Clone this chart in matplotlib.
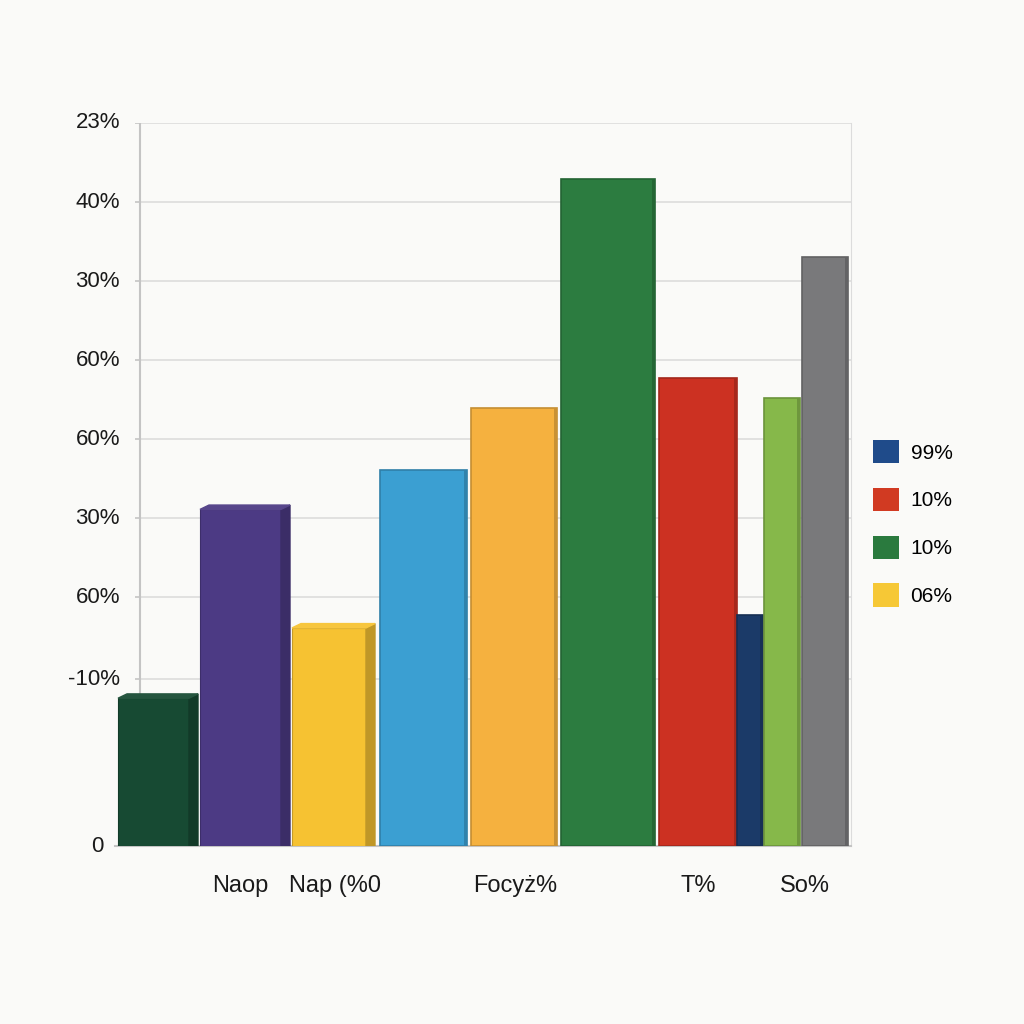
import matplotlib.pyplot as plt
from matplotlib.patches import Patch, Polygon
import matplotlib.colors as mcolors

plt.rcParams['font.family'] = ['Liberation Sans', 'DejaVu Sans']

# bar values (grid spacing = 10 units)
values = [18.7, 42.6, 27.6, 47.6, 55.4, 84.4, 59.2, 29.2, 56.7, 74.6]
colors = ['#174a33', '#4c3a84', '#f6c232', '#3b9fd2', '#f5b13f',
          '#2c7c40', '#cc3122', '#1b3a68', '#86b84a', '#79797b']

# layout: left edge and width of every bar (axis units), 3d bars
lefts = [3, 85, 177, 265, 356, 446, 544, 622, 649, 687]
widths = [80, 90, 83, 87, 86, 94, 78, 26, 36, 46]
depth_bars = [0, 1, 2]
dx, dy = 9, 0.55

y_ticks = [0, 21.1, 31.5, 41.5, 51.5, 61.5, 71.5, 81.5, 91.5]
y_labels = ['0', '-10%', '60%', '30%', '60%', '60%', '30%', '40%', '23%']

x_ticks = [125, 220, 400, 583, 690]
x_labels = ['Naop', 'Nap (%0', 'Focyż%', 'T%', 'Sо%']

legend_labels = ['99%', '10%', '10%', '06%']
legend_colors = ['#1f4b8a', '#d13a22', '#2a7a3e', '#f6c836']


def shade(c, f):
    r, g, b = mcolors.to_rgb(c)
    return (r * f, g * f, b * f)


def lighten(c, f):
    r, g, b = mcolors.to_rgb(c)
    return (r + (1 - r) * f, g + (1 - g) * f, b + (1 - b) * f)


bg = '#fafaf8'
fig = plt.figure(figsize=(10.24, 10.24), dpi=100, facecolor=bg)
ax = fig.add_axes([115 / 1024, 1 - 846 / 1024, 736 / 1024, 723 / 1024])
ax.set_facecolor(bg)
ax.set_xlim(0, 736)
ax.set_ylim(0, 91.5)

axis_x = 25
ax.hlines(y_ticks[1:], axis_x, 736, color='#dcdcdc', lw=1.2, zorder=1)
ax.vlines(axis_x, 0, 91.5, color='#c4c4c4', lw=1.5, zorder=1)
ax.hlines(y_ticks[1:], axis_x - 5, axis_x, color='#c4c4c4', lw=1.2)

for i, (l, w, v, c) in enumerate(zip(lefts, widths, values, colors)):
    if i in depth_bars:
        ax.bar(l, v, width=w - dx, align='edge', color=c,
               edgecolor=shade(c, 0.8), linewidth=0.8, zorder=3)
        side = [(l + w - dx, 0), (l + w, 0), (l + w, v + dy), (l + w - dx, v)]
        top = [(l, v), (l + dx, v + dy), (l + w, v + dy), (l + w - dx, v)]
        ax.add_patch(Polygon(side, closed=True, color=shade(c, 0.78), zorder=3))
        ax.add_patch(Polygon(top, closed=True, color=lighten(c, 0.06), zorder=3))
    else:
        ax.bar(l, v, width=w, align='edge', color=c,
               edgecolor=shade(c, 0.8), linewidth=1.2, zorder=3)
        # darker right rim
        ax.bar(l + w - 3, v, width=3, align='edge', color=shade(c, 0.82),
               linewidth=0, zorder=3)

for sp in ['top', 'left']:
    ax.spines[sp].set_visible(False)
ax.spines['right'].set_color('#dcdcdc')
ax.spines['bottom'].set_color('#c4c4c4')
ax.spines['bottom'].set_linewidth(1.5)

ax.set_yticks([])
for y, lab in zip(y_ticks, y_labels):
    x = -12 if lab == '0' else 5
    ax.text(x, y, lab, ha='right', va='center', fontsize=16, color='#1a1a1a')

ax.set_xticks(x_ticks)
ax.set_xticklabels(x_labels, fontsize=17, color='#1a1a1a')
ax.tick_params(axis='x', length=0, pad=21)

handles = [Patch(facecolor=c, edgecolor='none') for c in legend_colors]
fig.legend(handles, legend_labels, loc='upper left',
           bbox_to_anchor=(873 / 1024, 1 - 440 / 1024), frameon=False,
           fontsize=15, handlelength=1.25, handleheight=1.35,
           handletextpad=0.55, labelspacing=1.17, borderpad=0, borderaxespad=0)

plt.savefig('out.png', dpi=100, facecolor=bg)
